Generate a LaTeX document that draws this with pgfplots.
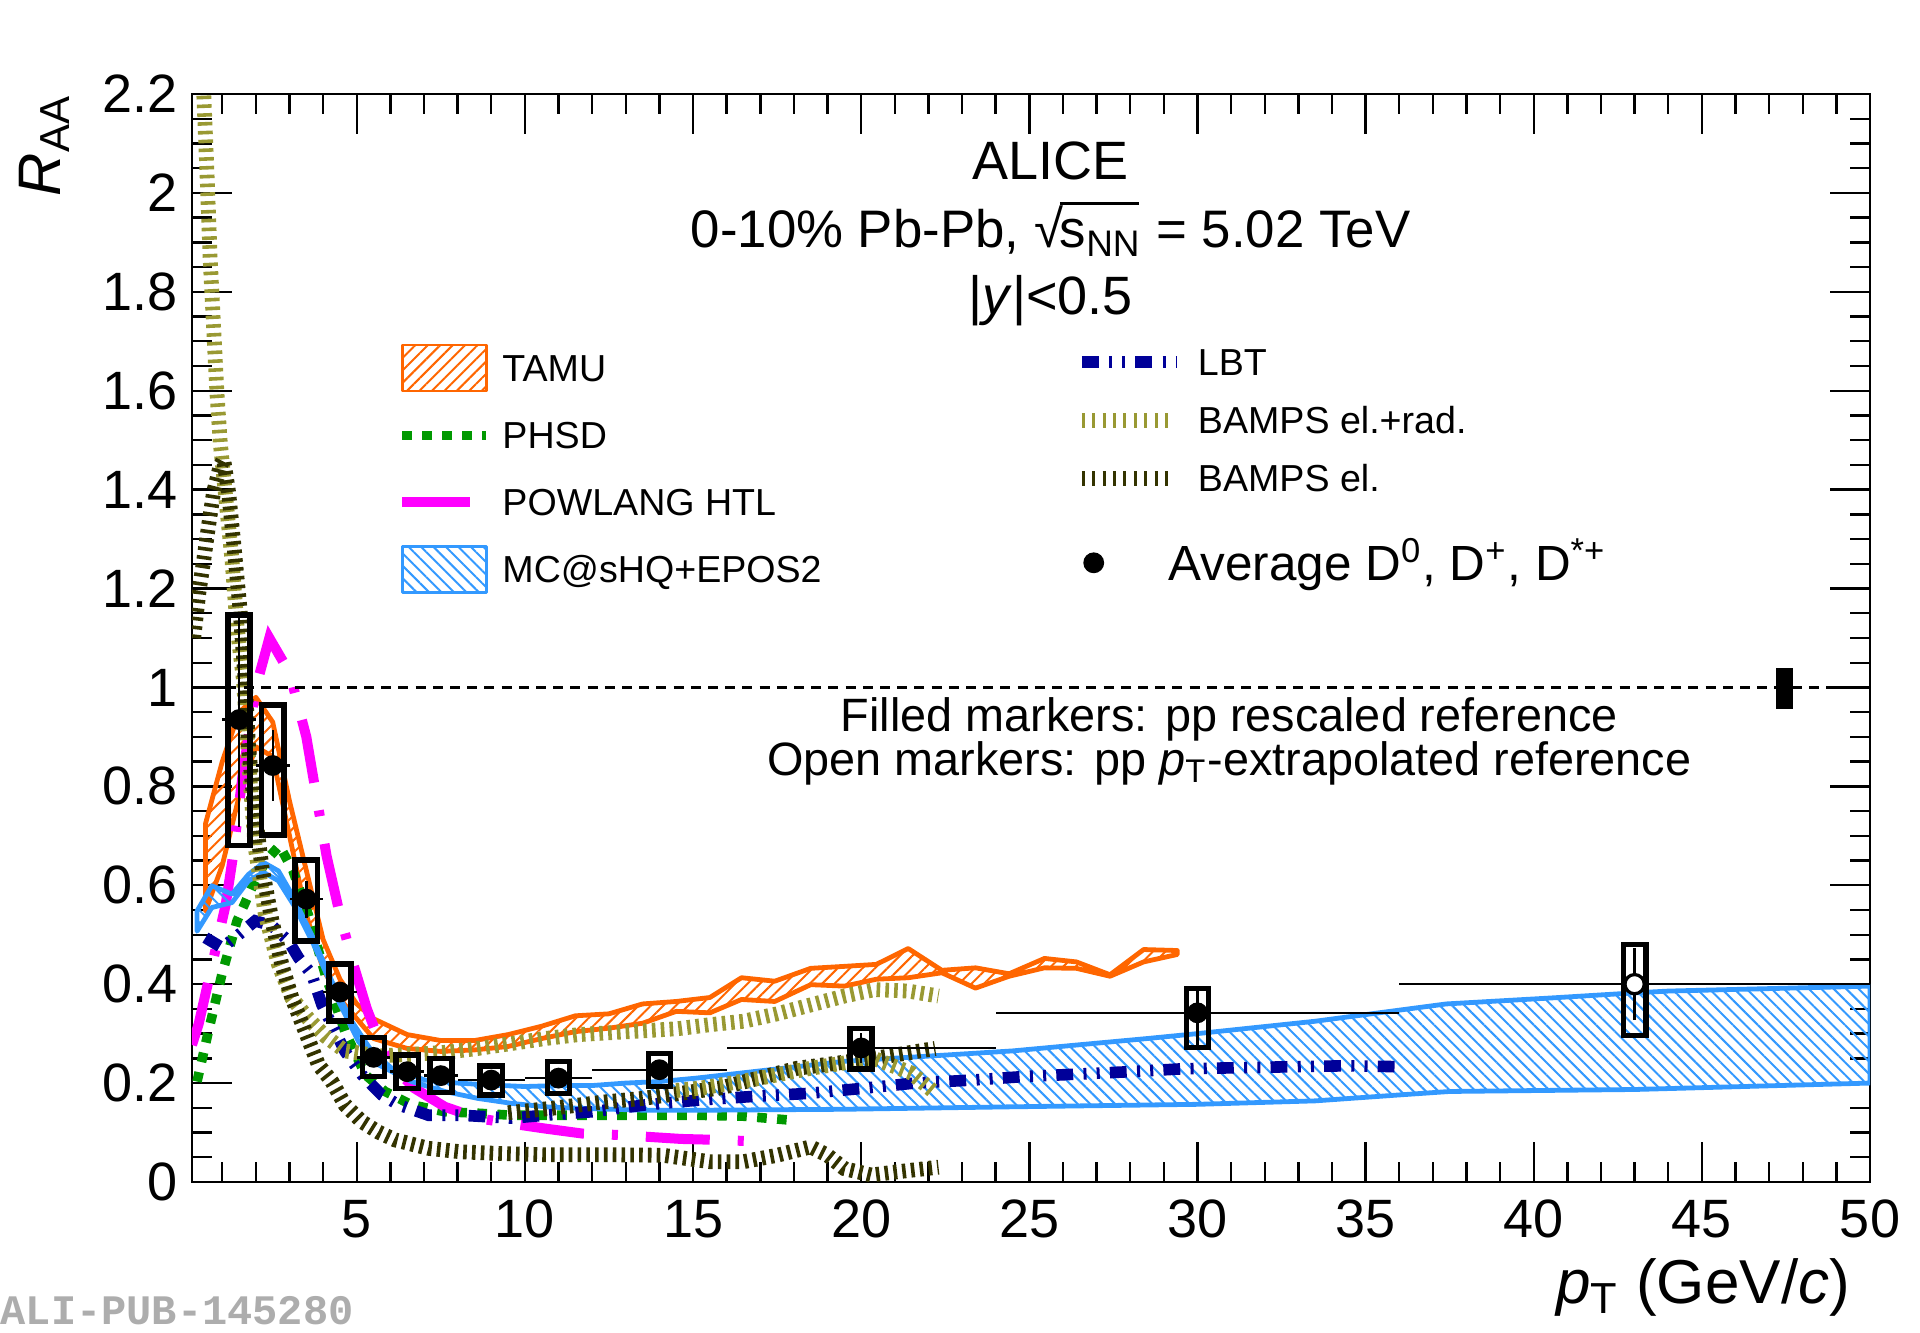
\documentclass[border=0pt]{standalone}
\usepackage{fontspec}
\setmainfont{Liberation Sans}
\setmonofont{Liberation Mono}
\usepackage{pgfplots}
\pgfplotsset{compat=1.18}
\usetikzlibrary{patterns.meta}

\definecolor{tamu}{RGB}{255,102,0}
\definecolor{mcshq}{RGB}{51,153,255}
\definecolor{phsd}{RGB}{0,153,0}
\definecolor{powlang}{RGB}{255,0,255}
\definecolor{lbt}{RGB}{0,0,153}
\definecolor{bampsrad}{RGB}{153,153,51}
\definecolor{bampsel}{RGB}{51,51,0}

\pgfplotsset{
  base/.style={
    width=419.5pt, height=272pt, scale only axis,
    xmin=0.1, xmax=50, ymin=0, ymax=2.2,
    clip mode=individual,
    at={(0pt,0pt)}, anchor=south west,
  },
  lineleg/.style={legend image code/.code={\draw[##1] (0pt,0pt) -- (#1,0pt);}},
  bampsleg/.style={legend image code/.code={\draw[##1, dash pattern=on 0.75pt off 1.85pt] (0pt,0pt) -- (23.2pt,0pt);}},
  powleg/.style={legend image code/.code={\draw[##1,solid] (0pt,0pt) -- (17pt,0pt);}},
  bandleg/.style={legend image code/.code={\draw[##1,line width=0.6pt] (0pt,-5.75pt) rectangle (21pt,5.75pt);}},
  dataleg/.style={legend image code/.code={\draw[##1] plot coordinates {(0pt,0pt)};}},
  bampsstyle/.style={line width=3.7pt, dash pattern=on 0.9pt off 1.3pt},
}

\begin{document}
\begin{tikzpicture}
\path (-48pt,-37.75pt) rectangle (432pt,295.5pt);

% ---------------- axis A: frame + first legend ----------------
\begin{axis}[base,
  axis line style={line width=0.6pt},
  tick align=inside,
  xtick={5,10,...,50},
  minor xtick={1,...,49},
  ytick={0,0.2,0.4,0.6,0.8,1,1.2,1.4,1.6,1.8,2,2.2},
  minor ytick={0.05,0.1,0.15,0.25,0.3,0.35,0.45,0.5,0.55,0.65,0.7,0.75,0.85,0.9,0.95,1.05,1.1,1.15,1.25,1.3,1.35,1.45,1.5,1.55,1.65,1.7,1.75,1.85,1.9,1.95,2.05,2.1,2.15},
  major tick length=10pt, minor tick length=5pt,
  every tick/.style={line width=0.6pt, black},
  tick label style={font=\fontsize{13.5}{15}\selectfont},
  xticklabel style={yshift=-1pt},
  /pgf/number format/assume math mode=true,
  xlabel={\textit{p}\textsubscript{T} (GeV/\textit{c})},
  xlabel style={at={(rel axis cs:1,0)}, anchor=base east, yshift=-30.5pt, xshift=-1.5pt, font=\fontsize{15.5}{17}\selectfont},
  legend style={at={(axis cs:6.21,1.695)}, anchor=north west, draw=none, fill=none, inner sep=0pt, outer sep=0pt,
    row sep=5.1pt, font=\fontsize{9.4}{11}\selectfont, nodes={inner sep=0pt, text height=9.1pt, text depth=2.4pt},
    /tikz/every odd column/.append style={column sep=2.8pt}},
  legend cell align=left,
]
% TAMU band
\addplot[draw=tamu, line width=1.2pt, line join=round, pattern={Lines[angle=45,distance=2.2pt,line width=0.5pt]}, pattern color=tamu, bandleg]
coordinates {
(0.5,0.724) (1.0,0.85) (1.5,0.95) (2.0,0.98) (2.5,0.93) (3.0,0.77) (3.5,0.63) (4.0,0.49) (4.5,0.41) (5.0,0.36) (5.5,0.33)
(6.5,0.298) (7.5,0.286) (8.5,0.286) (9.5,0.298) (10.5,0.315) (11.5,0.336) (12.5,0.34) (13.5,0.36) (14.5,0.365)
(15.5,0.373) (16.44,0.413) (17.43,0.406) (18.5,0.432) (19.5,0.436) (20.45,0.44) (21.4,0.472) (22.4,0.428)
(23.4,0.433) (24.4,0.421) (25.45,0.452) (26.4,0.445) (27.4,0.419) (28.4,0.47) (29.4,0.468)
(29.4,0.46) (28.4,0.445) (27.4,0.416) (26.4,0.432) (25.45,0.433) (24.4,0.416) (23.4,0.392) (22.4,0.423)
(21.4,0.413) (20.45,0.41) (19.5,0.396) (18.5,0.399) (17.43,0.365) (16.44,0.369) (15.5,0.342) (14.5,0.345)
(13.5,0.321) (12.5,0.311) (11.5,0.304) (10.5,0.29) (9.5,0.274) (8.5,0.267) (7.5,0.264) (6.5,0.27) (5.5,0.29)
(5.0,0.33) (4.5,0.37) (4.0,0.43) (3.5,0.54) (3.0,0.70) (2.5,0.86) (2.0,0.88) (1.5,0.78) (1.0,0.64) (0.5,0.548)
} --cycle;
\addlegendentry{TAMU}
% PHSD
\addplot[color=phsd, line width=2.4pt, dash pattern=on 2.4pt off 2.6pt, lineleg=21pt]
coordinates {
(0.25,0.203) (0.59,0.305) (0.99,0.42) (1.44,0.528) (1.88,0.595) (2.3,0.65) (2.7,0.68) (3.1,0.63) (3.56,0.54)
(4.06,0.42) (4.65,0.304) (5.25,0.217) (5.84,0.183) (6.63,0.156) (7.62,0.142) (8.6,0.139) (9.6,0.135)
(12,0.135) (15,0.135) (16.5,0.133) (17.9,0.125)
};
\addlegendentry{PHSD}
% POWLANG
\addplot[color=powlang, line width=2.5pt, dash pattern=on 16pt off 7pt on 1.5pt off 7pt, powleg]
coordinates {
(0.1,0.277) (0.3,0.32) (0.5,0.38) (0.8,0.47) (1.1,0.56) (1.3,0.65) (1.6,0.82) (2.0,1.0) (2.4,1.10) (3.0,1.03)
(3.5,0.90) (3.8,0.78) (4.1,0.66) (4.5,0.54) (4.9,0.44) (5.3,0.35) (5.7,0.28) (6.2,0.225) (6.7,0.19)
(7.62,0.152) (8.6,0.129) (9.6,0.118) (10.6,0.108) (11.7,0.098) (12.8,0.095) (14.65,0.087) (15.8,0.085) (17.2,0.081)
};
\addlegendentry{POWLANG HTL}
% MC@sHQ+EPOS2 band
\addplot[draw=mcshq, line width=1.2pt, line join=round, pattern={Lines[angle=-45,distance=2.2pt,line width=0.5pt]}, pattern color=mcshq, bandleg]
coordinates {
(0.25,0.548) (0.69,0.599) (1.29,0.582) (1.78,0.622) (2.23,0.646) (2.67,0.629) (3.07,0.582) (3.66,0.50)
(4.26,0.406) (4.85,0.325) (5.45,0.264) (6.04,0.23) (7.03,0.206) (8,0.2) (9,0.196) (10,0.193) (11,0.195)
(12,0.195) (13,0.2) (14,0.203) (15.1,0.21) (19.5,0.244) (24.5,0.265) (28.5,0.29) (30,0.30) (33.5,0.325)
(37.4,0.36) (40.5,0.372) (42.9,0.382) (44,0.386) (50,0.396)
(50,0.2) (43,0.187) (37.5,0.183) (36,0.176) (33.5,0.164) (30,0.157) (24.5,0.152) (19.5,0.147) (15.1,0.145)
(13.6,0.145) (12.6,0.147) (11.6,0.149) (10.6,0.152) (9.6,0.159) (8.6,0.169) (7.62,0.183) (6.63,0.203)
(5.64,0.237) (5.05,0.284) (4.36,0.379) (3.76,0.474) (3.17,0.555) (2.67,0.609) (2.23,0.626) (1.78,0.609)
(1.29,0.565) (0.69,0.555) (0.25,0.507)
} --cycle;
\addlegendentry{MC@sHQ+EPOS2}
\end{axis}

% ---------------- axis B: LBT, BAMPS + second legend ----------------
\begin{axis}[base, hide axis,
  legend style={at={(axis cs:26.34,1.705)}, anchor=north west, draw=none, fill=none, inner sep=0pt, outer sep=0pt,
    row sep=3.1pt, font=\fontsize{9.4}{11}\selectfont, nodes={inner sep=0pt, text height=9.1pt, text depth=2.4pt},
    /tikz/every odd column/.append style={column sep=4pt}},
  legend cell align=left,
]
\addplot[color=lbt, line width=2.9pt, dash pattern=on 4.2pt off 2.6pt on 0.75pt off 2.55pt on 0.75pt off 2.55pt, lineleg=23.6pt]
coordinates {
(0.5,0.494) (0.99,0.474) (1.49,0.50) (1.98,0.528) (2.48,0.518) (2.97,0.487) (3.27,0.453) (3.66,0.42)
(3.96,0.359) (4.36,0.304) (4.65,0.264) (5.15,0.217) (5.74,0.176) (6.24,0.156) (7.13,0.135) (8.1,0.135)
(9.6,0.129) (10.6,0.135) (12.0,0.142) (13.6,0.156) (15.25,0.166) (16.8,0.173) (18.4,0.179) (20,0.189)
(21.6,0.2) (23.3,0.206) (24.8,0.213) (26.4,0.218) (28.0,0.223) (29.6,0.229) (31.2,0.231) (32.8,0.233)
(34.5,0.235) (36.05,0.233)
};
\addlegendentry{LBT}
\addplot[color=bampsrad, bampsstyle, bampsleg]
coordinates {
(0.42,2.25) (0.54,2.05) (0.64,1.867) (0.74,1.732) (0.84,1.597) (0.94,1.495) (1.09,1.394) (1.29,1.258)
(1.44,1.123) (1.63,1.015) (1.83,0.81) (1.98,0.677) (2.28,0.541) (2.67,0.44) (3.07,0.372) (3.56,0.33)
(4.06,0.295) (4.65,0.265) (5.64,0.255) (6.63,0.258) (7.6,0.262) (8.6,0.27) (9.6,0.28) (10.6,0.29)
(11.6,0.298) (12.6,0.302) (13.6,0.306) (14.55,0.31) (15.5,0.318) (16.5,0.325) (17.5,0.34) (18.5,0.358)
(19.5,0.376) (20.4,0.389) (21.4,0.386) (22.3,0.376)
};
\addlegendentry{BAMPS el.+rad.}
\addplot[color=bampsel, bampsstyle, bampsleg]
coordinates {
(0.15,1.10) (0.3,1.19) (0.45,1.258) (0.59,1.326) (0.74,1.394) (0.94,1.448) (1.04,1.461) (1.19,1.394)
(1.34,1.292) (1.53,1.157) (1.68,1.015) (1.78,0.88) (1.98,0.744) (2.18,0.636) (2.48,0.528) (2.77,0.44)
(3.07,0.372) (3.47,0.304) (3.86,0.237) (4.26,0.203) (4.65,0.156) (5.15,0.122) (5.64,0.101) (6.14,0.085)
(7.13,0.068) (8.1,0.061) (9.1,0.058) (10.6,0.055) (12.6,0.055) (14.1,0.054) (15.5,0.041) (16.5,0.041)
(17.5,0.054) (18.5,0.071) (19.0,0.054) (19.5,0.027) (20.3,0.014) (21.0,0.02) (22.3,0.03)
};
\addlegendentry{BAMPS el.}
\addplot[color=bampsel, bampsstyle, forget plot]
coordinates {
(9.5,0.14) (10.8,0.149) (12.4,0.162) (13.5,0.169) (15.8,0.19) (18.1,0.23) (20.4,0.25) (22.2,0.27)
};
\addplot[color=bampsrad, bampsstyle, forget plot]
coordinates {
(14.5,0.185) (15.25,0.19) (17,0.21) (18.5,0.23) (20.37,0.25) (21.5,0.22) (22.2,0.18)
};
\end{axis}

% ---------------- axis C: data + third legend + texts ----------------
\begin{axis}[base, hide axis,
  legend style={at={(axis cs:26.63,1.252)}, anchor=west, draw=none, fill=none, inner sep=0pt, outer sep=0pt,
    font=\fontsize{12.35}{14}\selectfont, nodes={inner sep=0pt, text height=10.2pt, text depth=1.4pt},
    /tikz/every odd column/.append style={column sep=16.3pt}},
  legend cell align=left,
]
% data points (filled)
\addplot[only marks, mark=*, mark size=2.4pt, color=black, dataleg,
  error bars/.cd, x dir=both, x explicit, y dir=both, y explicit, error mark=none,
  error bar style={line width=0.6pt, black}]
  table[x=x, y=y, x error=ex, y error plus=eyp, y error minus=eym] {
x y ex eyp eym
1.5 0.935 0.5 0.215 0.218
2.5 0.842 0.5 0.071 0.071
3.5 0.572 0.5 0.037 0.038
4.5 0.384 0.5 0.02 0.02
5.5 0.252 0.5 0.012 0.012
6.5 0.223 0.5 0.01 0.01
7.5 0.215 0.5 0.01 0.01
9 0.206 1 0.01 0.01
11 0.21 1 0.012 0.012
14 0.227 2 0.016 0.016
20 0.271 4 0.03 0.03
30 0.342 6 0.05 0.065
};
\addlegendentry{Average D\textsuperscript{0}, D\textsuperscript{+}, D\textsuperscript{*+}}
% open point
\addplot[only marks, mark=*, mark size=2.4pt, mark options={fill=white, draw=black, line width=0.8pt}, forget plot,
  error bars/.cd, x dir=both, x explicit, y dir=both, y explicit, error mark=none,
  error bar style={line width=0.6pt, black}]
  table[x=x, y=y, x error=ex, y error plus=eyp, y error minus=eym] {
x y ex eyp eym
43 0.40 7 0.074 0.072
};
% systematic boxes
\addplot[black, line width=1.4pt, line cap=rect, line join=miter, unbounded coords=jump, forget plot]
coordinates {
(1.17,0.68) (1.83,0.68) (1.83,1.147) (1.17,1.147) (1.17,0.68) (1.17,nan)
(2.17,0.702) (2.83,0.702) (2.83,0.964) (2.17,0.964) (2.17,0.702) (2.17,nan)
(3.17,0.487) (3.83,0.487) (3.83,0.651) (3.17,0.651) (3.17,0.487) (3.17,nan)
(4.17,0.325) (4.83,0.325) (4.83,0.441) (4.17,0.441) (4.17,0.325) (4.17,nan)
(5.17,0.213) (5.83,0.213) (5.83,0.292) (5.17,0.292) (5.17,0.213) (5.17,nan)
(6.17,0.189) (6.83,0.189) (6.83,0.257) (6.17,0.257) (6.17,0.189) (6.17,nan)
(7.17,0.181) (7.83,0.181) (7.83,0.25) (7.17,0.25) (7.17,0.181) (7.17,nan)
(8.67,0.176) (9.33,0.176) (9.33,0.235) (8.67,0.235) (8.67,0.176) (8.67,nan)
(10.67,0.179) (11.33,0.179) (11.33,0.244) (10.67,0.244) (10.67,0.179) (10.67,nan)
(13.67,0.193) (14.33,0.193) (14.33,0.26) (13.67,0.26) (13.67,0.193) (13.67,nan)
(19.67,0.229) (20.33,0.229) (20.33,0.31) (19.67,0.31) (19.67,0.229) (19.67,nan)
(29.67,0.272) (30.33,0.272) (30.33,0.391) (29.67,0.391) (29.67,0.272) (29.67,nan)
(42.67,0.296) (43.33,0.296) (43.33,0.48) (42.67,0.48) (42.67,0.296)
};
% unity line
\addplot[black, line width=0.6pt, dash pattern=on 2.5pt off 1.8pt, forget plot] coordinates {(0.1,1) (50,1)};
% normalisation uncertainty
\addplot[fill=black, draw=none, forget plot] coordinates {(47.2,0.957) (47.7,0.957) (47.7,1.039) (47.2,1.039)} --cycle;

\node[font=\fontsize{13.5}{15}\selectfont, anchor=base, inner sep=0pt] at (axis cs:25.63,2.028) {ALICE};
\node[font=\fontsize{13.2}{15}\selectfont, anchor=base, inner sep=0pt] at (axis cs:25.63,1.89) {0-10\% Pb-Pb, √\kern-0.06em\rlap{\rule[0.8em]{1.5em}{0.06em}}s\textsubscript{NN} = 5.02 TeV};
\node[font=\fontsize{13.5}{15}\selectfont, anchor=base, inner sep=0pt] at (axis cs:25.63,1.754) {|\textit{y}|<0.5};
\node[font=\fontsize{11.7}{13}\selectfont, anchor=base, inner sep=0pt] at (axis cs:30.95,0.911) {Filled markers: pp rescaled reference};
\node[font=\fontsize{11.7}{13}\selectfont, anchor=base, inner sep=0pt] at (axis cs:30.95,0.822) {Open markers: pp \textit{p}\textsubscript{T}-extrapolated reference};
\end{axis}

\node[rotate=90, anchor=east, inner sep=0pt, font=\fontsize{15}{17}\selectfont] at (-37pt,272pt) {\textit{R}\textsubscript{AA}};
\node[anchor=base west, inner sep=0pt, font=\ttfamily\bfseries\fontsize{10.5}{12}\selectfont, text=black!32] at (-48pt,-35.75pt) {ALI-PUB-145280};
\end{tikzpicture}
\end{document}
